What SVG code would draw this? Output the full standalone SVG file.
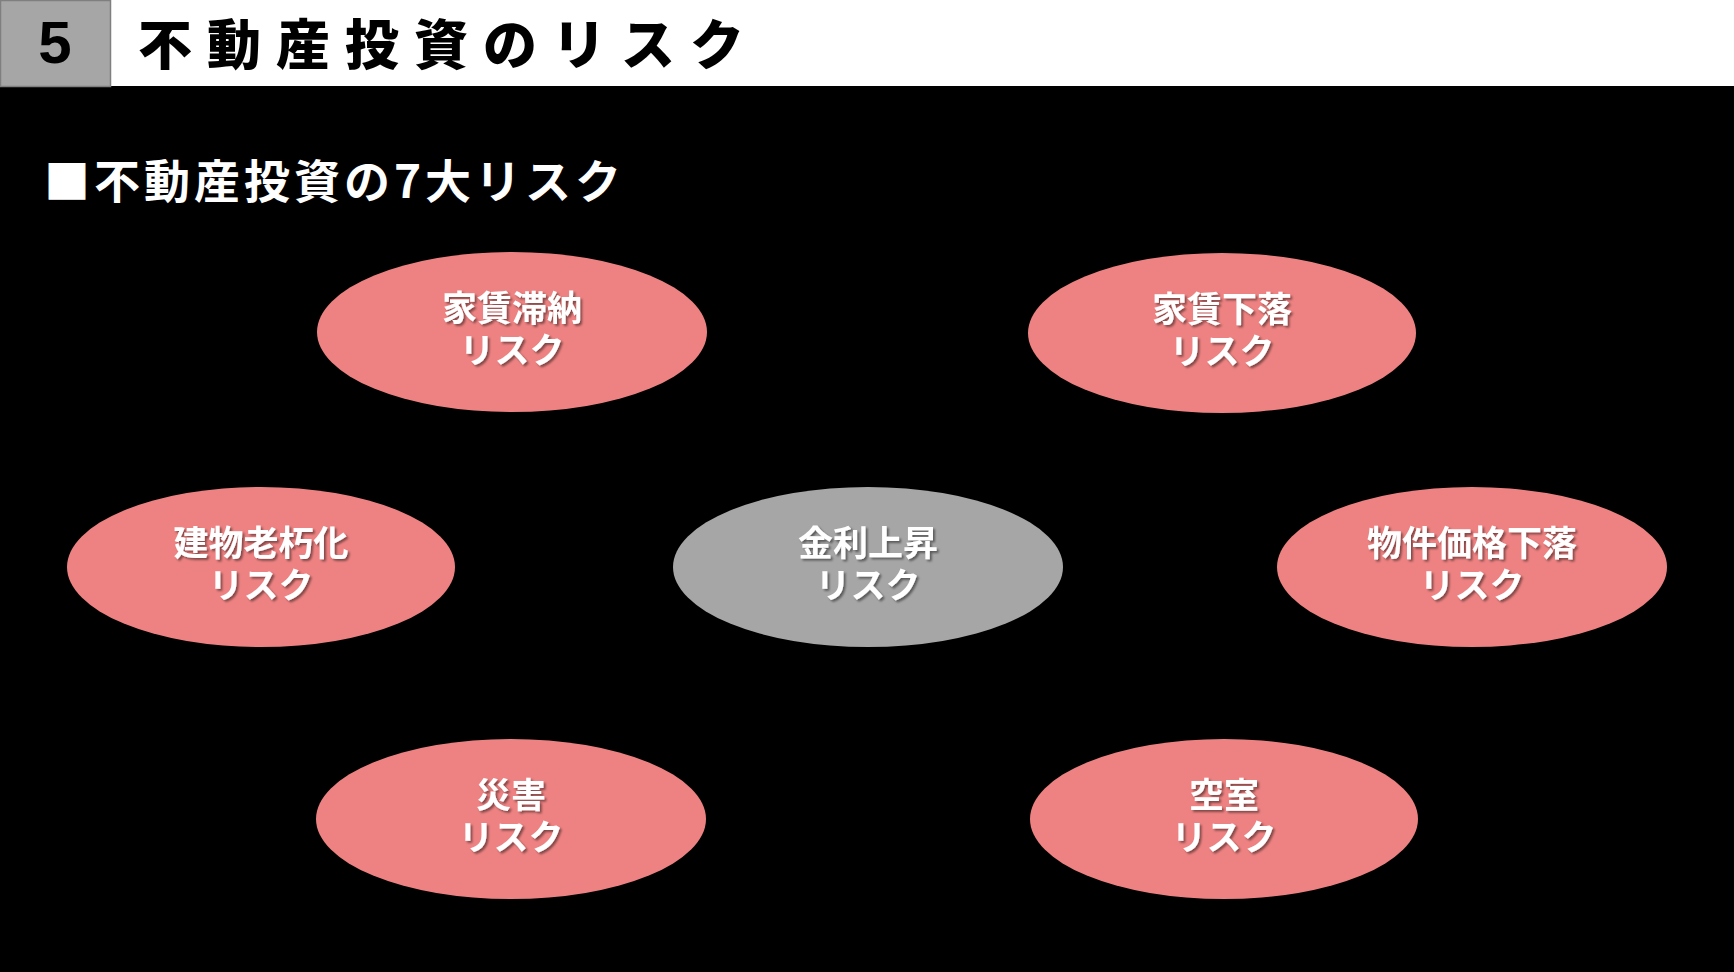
<svg xmlns="http://www.w3.org/2000/svg" width="1734" height="972" viewBox="0 0 1734 972">
<defs>
<filter id="ts" x="-10%" y="-20%" width="130%" height="150%">
<feDropShadow dx="2" dy="2" stdDeviation="1" flood-color="#000" flood-opacity="0.45"/>
</filter>
<style>
.pink{fill:#EE8282;}
.gray{fill:#A6A6A6;}
.lbl{font-family:"Noto Sans CJK JP","Noto Sans",sans-serif;font-weight:700;font-size:35px;fill:#fff;text-anchor:middle;dominant-baseline:central;filter:url(#ts);}
</style>
</defs>
<rect x="0" y="0" width="1734" height="972" fill="#000"/>
<g id="header">
<rect x="0" y="0" width="1734" height="86" fill="#fff"/>
<rect x="0.5" y="0.5" width="110" height="86" fill="#A6A6A6" stroke="#7F7F7F" stroke-width="1.5"/>
<text x="55" y="63" font-family="Liberation Sans, Arial, sans-serif" font-weight="700" font-size="60" fill="#000" text-anchor="middle">5</text>
<text x="138" y="65" font-family="Noto Sans CJK JP, sans-serif" font-weight="900" font-size="54" letter-spacing="15" fill="#000">不動産投資のリスク</text>
</g>
<g id="subtitle">
<text x="44" y="198" font-family="Noto Sans CJK JP, sans-serif" font-weight="700" font-size="46" fill="#fff" textLength="577" lengthAdjust="spacing">■不動産投資の7大リスク</text>
</g>
<g id="n1">
<ellipse class="pink" cx="512" cy="332" rx="195" ry="80"/>
<text class="lbl" x="512" y="305">家賃滞納<tspan x="512" dy="42">リスク</tspan></text>
</g>
<g id="n2">
<ellipse class="pink" cx="1222" cy="333" rx="194" ry="80"/>
<text class="lbl" x="1222" y="306">家賃下落<tspan x="1222" dy="42">リスク</tspan></text>
</g>
<g id="n3">
<ellipse class="pink" cx="261" cy="567" rx="194" ry="80"/>
<text class="lbl" x="261" y="540">建物老朽化<tspan x="261" dy="42">リスク</tspan></text>
</g>
<g id="n4">
<ellipse class="gray" cx="868" cy="567" rx="195" ry="80"/>
<text class="lbl" x="868" y="540">金利上昇<tspan x="868" dy="42">リスク</tspan></text>
</g>
<g id="n5">
<ellipse class="pink" cx="1472" cy="567" rx="195" ry="80"/>
<text class="lbl" x="1472" y="540">物件価格下落<tspan x="1472" dy="42">リスク</tspan></text>
</g>
<g id="n6">
<ellipse class="pink" cx="511" cy="819" rx="195" ry="80"/>
<text class="lbl" x="511" y="792">災害<tspan x="511" dy="42">リスク</tspan></text>
</g>
<g id="n7">
<ellipse class="pink" cx="1224" cy="819" rx="194" ry="80"/>
<text class="lbl" x="1224" y="792">空室<tspan x="1224" dy="42">リスク</tspan></text>
</g>
<g id="connectors"></g>
</svg>
